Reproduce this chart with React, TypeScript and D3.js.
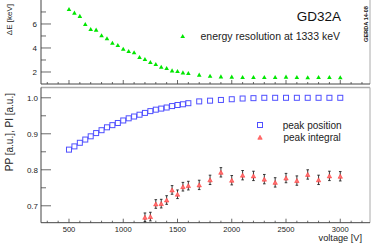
import React from 'react';
import * as d3 from 'd3';

// ── Data ──────────────────────────────────────────────────────────────────────
const resVoltage = [
  500, 550, 600, 650, 700, 750, 800, 850, 900, 950, 1000, 1050, 1100, 1150, 1200,
  1250, 1300, 1350, 1400, 1450, 1500, 1550, 1600, 1700, 1800, 1900, 2000, 2100,
  2200, 2300, 2400, 2500, 2600, 2700, 2800, 2900, 3000,
];
const resolution = [
  7.25, 6.94, 6.67, 6.0, 5.58, 5.53, 5.06, 4.81, 4.44, 4.25, 3.94, 3.75, 3.64,
  3.25, 3.08, 2.83, 2.67, 2.44, 2.33, 2.14, 2.08, 1.97, 1.92, 1.78, 1.69, 1.64,
  1.61, 1.58, 1.58, 1.58, 1.58, 1.61, 1.58, 1.56, 1.58, 1.58, 1.56,
];
const peakPosition = [
  0.856, 0.865, 0.875, 0.884, 0.893, 0.902, 0.91, 0.918, 0.924, 0.93, 0.937,
  0.943, 0.948, 0.953, 0.958, 0.963, 0.967, 0.97, 0.973, 0.977, 0.98, 0.982,
  0.985, 0.99, 0.992, 0.994, 0.996, 0.998, 0.999, 1.0, 1.0, 1.0, 1.0, 1.0, 1.0,
  1.0, 1.0,
];
const intVoltage = [
  1200, 1250, 1300, 1350, 1400, 1450, 1500, 1550, 1600, 1700, 1800, 1900, 2000,
  2100, 2200, 2300, 2400, 2500, 2600, 2700, 2800, 2900, 3000,
];
const peakIntegral = [
  0.668, 0.67, 0.705, 0.706, 0.716, 0.744, 0.732, 0.753, 0.756, 0.758, 0.772,
  0.793, 0.771, 0.785, 0.783, 0.774, 0.765, 0.777, 0.77, 0.787, 0.772, 0.783,
  0.782,
];
const integralErr = [
  0.012, 0.012, 0.012, 0.012, 0.012, 0.012, 0.012, 0.012, 0.012, 0.013, 0.013,
  0.013, 0.013, 0.013, 0.013, 0.013, 0.013, 0.013, 0.013, 0.013, 0.013, 0.013,
  0.013,
];

const xMajor = [500, 1000, 1500, 2000, 2500, 3000];
const xMinor = d3.range(300, 3300, 100);
const topMajor = [2, 4, 6];
const topMinor = [3, 5, 7];
const botMajor = [0.7, 0.8, 0.9, 1.0];
const botMinor = [0.75, 0.85, 0.95];

const FONT = '"Liberation Sans", Arial, Helvetica, sans-serif';
const W = 374;
const H = 243;
const LEFT = 41;
const RIGHT = 370;
const BOTTOM = 222.7;

const GREEN = '#00e600';
const BLUE = '#5050ff';
const RED_FILL = '#ff7373';
const RED_LINE = '#ff3a3a';
const AXIS = '#444';
const FRAME = '#aaa';

// upward triangle marker centred on (cx, cy)
function tri(cx: number, cy: number, s: number) {
  const h = s * 0.9;
  return `M${cx},${cy - h / 2}L${cx + s / 2},${cy + h / 2}L${cx - s / 2},${cy + h / 2}Z`;
}

export default function App() {
  const x = d3.scaleLinear().domain([242, 3274]).range([LEFT, RIGHT]);
  const yTop = d3.scaleLinear().domain([1.0, 7.83]).range([84, 2]);
  const yBot = d3.scaleLinear().domain([0.653, 1.0286]).range([BOTTOM, 87.5]);
  const fmt = d3.format('.1f');

  return (
    <div style={{ position: 'fixed', left: 0, top: 0 }}>
      <svg width={W} height={H} style={{ display: 'block', background: '#fff' }} fontFamily={FONT}>
        {/* ── Top pad: energy resolution ── */}
        <line x1={RIGHT} x2={RIGHT} y1={0} y2={84} stroke={FRAME} />
        <line x1={LEFT} x2={LEFT} y1={0} y2={84} stroke={AXIS} />
        <line x1={LEFT} x2={RIGHT} y1={84} y2={84} stroke={AXIS} />
        {xMinor.map((t) => (
          <line key={'tx' + t} x1={x(t)} x2={x(t)} y1={84} y2={xMajor.includes(t) ? 80 : 82} stroke={AXIS} strokeWidth={0.8} />
        ))}
        {topMinor.map((t) => (
          <line key={'tmi' + t} x1={LEFT} x2={LEFT + 5} y1={yTop(t)} y2={yTop(t)} stroke={AXIS} strokeWidth={0.8} />
        ))}
        {topMajor.map((t) => (
          <g key={'tma' + t}>
            <line x1={LEFT} x2={LEFT + 10} y1={yTop(t)} y2={yTop(t)} stroke={AXIS} strokeWidth={0.8} />
            <text x={37} y={yTop(t)} dy="0.35em" textAnchor="end" fontSize={8} fill="#222">
              {t}
            </text>
          </g>
        ))}
        <text transform={`translate(12,4) rotate(-90)`} textAnchor="end" fontSize={8} fill="#222">
          ΔE [keV]
        </text>
        {resVoltage.map((v, i) => (
          <path key={'r' + i} d={tri(x(v), yTop(resolution[i]), 4.6)} fill={GREEN} />
        ))}
        <text x={341} y={21} textAnchor="end" fontSize={13.5} fill="#111">
          GD32A
        </text>
        <path d={tri(182.7, 36, 4.6)} fill={GREEN} />
        <text x={200.5} y={39.5} fontSize={10.5} fill="#222">
          energy resolution at 1333 keV
        </text>
        <text transform={`translate(367.5,24) rotate(-90)`} textAnchor="middle" fontSize={5.6} fontWeight="bold" fill="#111">
          GERDA 14-08
        </text>

        {/* ── Bottom pad: peak position / integral ── */}
        <line x1={LEFT} x2={RIGHT} y1={87.5} y2={87.5} stroke={FRAME} strokeWidth={1.5} />
        <line x1={RIGHT} x2={RIGHT} y1={87.5} y2={BOTTOM} stroke={FRAME} />
        <line x1={LEFT} x2={LEFT} y1={87.5} y2={BOTTOM} stroke={AXIS} />
        <line x1={LEFT} x2={RIGHT} y1={BOTTOM} y2={BOTTOM} stroke={AXIS} />
        {xMinor.map((t) => (
          <line key={'bx' + t} x1={x(t)} x2={x(t)} y1={BOTTOM} y2={xMajor.includes(t) ? BOTTOM - 4 : BOTTOM - 2} stroke={AXIS} strokeWidth={0.8} />
        ))}
        {xMajor.map((t) => (
          <text key={'bxl' + t} x={x(t)} y={231.5} textAnchor="middle" fontSize={7.6} fill="#222">
            {t}
          </text>
        ))}
        {botMinor.map((t) => (
          <line key={'bmi' + t} x1={LEFT} x2={LEFT + 5} y1={yBot(t)} y2={yBot(t)} stroke={AXIS} strokeWidth={0.8} />
        ))}
        {botMajor.map((t) => (
          <g key={'bma' + t}>
            <line x1={LEFT} x2={LEFT + 10} y1={yBot(t)} y2={yBot(t)} stroke={AXIS} strokeWidth={0.8} />
            <text x={38} y={yBot(t)} dy="0.35em" textAnchor="end" fontSize={8} fill="#222">
              {fmt(t)}
            </text>
          </g>
        ))}
        <text transform={`translate(13,93) rotate(-90)`} textAnchor="end" fontSize={10} fill="#222">
          PP [a.u.], PI [a.u.]
        </text>
        <text x={362} y={240.5} textAnchor="end" fontSize={9.2} fill="#222">
          voltage [V]
        </text>

        {resVoltage.map((v, i) => (
          <rect key={'p' + i} x={x(v) - 2.5} y={yBot(peakPosition[i]) - 2.5} width={5} height={5} fill="none" stroke={BLUE} strokeWidth={1} />
        ))}
        {intVoltage.map((v, i) => {
          const cx = x(v);
          const lo = yBot(peakIntegral[i] - integralErr[i]);
          const hi = yBot(peakIntegral[i] + integralErr[i]);
          return (
            <g key={'i' + i}>
              <line x1={cx} x2={cx} y1={hi} y2={Math.min(lo, BOTTOM)} stroke="#222" strokeWidth={0.9} />
              <line x1={cx - 1.3} x2={cx + 1.3} y1={hi} y2={hi} stroke="#222" strokeWidth={0.9} />
              {lo < BOTTOM && (
                <line x1={cx - 1.3} x2={cx + 1.3} y1={lo} y2={lo} stroke="#222" strokeWidth={0.9} />
              )}
              <path d={tri(cx, yBot(peakIntegral[i]), 4.4)} fill={RED_FILL} stroke={RED_LINE} strokeWidth={0.6} />
            </g>
          );
        })}

        {/* Legend */}
        <rect x={257.5} y={122.5} width={5} height={5} fill="none" stroke={BLUE} strokeWidth={1} />
        <text x={282.7} y={128.5} fontSize={10} fill="#222">
          peak position
        </text>
        <path d={tri(260, 137.3, 4.4)} fill={RED_FILL} stroke={RED_LINE} strokeWidth={0.6} />
        <text x={283.5} y={141} fontSize={10} fill="#222">
          peak integral
        </text>
      </svg>
    </div>
  );
}
